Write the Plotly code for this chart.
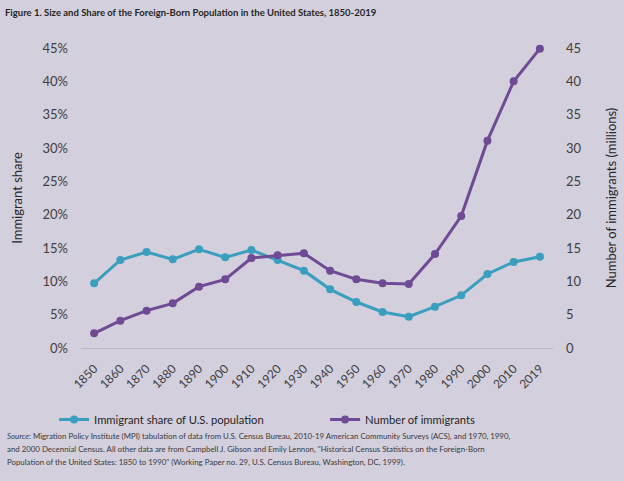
import plotly.graph_objects as go

years = ["1850", "1860", "1870", "1880", "1890", "1900", "1910", "1920", "1930",
         "1940", "1950", "1960", "1970", "1980", "1990", "2000", "2010", "2019"]
share_pct = [9.7, 13.2, 14.4, 13.3, 14.8, 13.6, 14.7, 13.2, 11.6,
             8.8, 6.9, 5.4, 4.7, 6.2, 7.9, 11.1, 12.9, 13.7]
number_mil = [2.2, 4.1, 5.6, 6.7, 9.2, 10.3, 13.5, 13.9, 14.2,
              11.6, 10.3, 9.7, 9.6, 14.1, 19.8, 31.1, 40.0, 44.9]

source_lines = [
    "<i>Source</i>: Migration Policy Institute (MPI) tabulation of data from U.S. Census Bureau, 2010-19 American Community Surveys (ACS), and 1970, 1990,",
    "and 2000 Decennial Census. All other data are from Campbell J. Gibson and Emily Lennon, \"Historical Census Statistics on the Foreign-Born",
    "Population of the United States: 1850 to 1990\" (Working Paper no. 29, U.S. Census Bureau, Washington, DC, 1999).",
]

BG = "#D3CFDC"
TEAL = "#3A9FBE"
PURPLE = "#6E4B94"
TXT = "#404040"
FONT = "Lato"

fig = go.Figure()
fig.add_trace(go.Scatter(
    x=years, y=share_pct, name="Immigrant share of U.S. population",
    mode="lines+markers", line=dict(color=TEAL, width=3),
    marker=dict(size=8, color=TEAL), cliponaxis=False, yaxis="y"))
fig.add_trace(go.Scatter(
    x=years, y=number_mil, name="Number of immigrants",
    mode="lines+markers", line=dict(color=PURPLE, width=3),
    marker=dict(size=8, color=PURPLE), cliponaxis=False, yaxis="y2"))

fig.update_layout(
    width=624, height=481,
    paper_bgcolor=BG, plot_bgcolor=BG,
    margin=dict(l=81, r=71, t=48, b=133, autoexpand=False),
    font=dict(family=FONT, color=TXT, size=13),
    title=dict(text="<b>Figure 1. Size and Share of the Foreign-Born Population in the United States, 1850-2019</b>",
               x=0.008, xref="container", xanchor="left", y=0.973, yref="container", yanchor="middle",
               font=dict(size=9.5, color="#262626")),
    showlegend=True,
    legend=dict(orientation="h", x=-0.057, xanchor="left", y=-0.19, yanchor="top",
                font=dict(size=11.2, color="#262626"), bgcolor="rgba(0,0,0,0)",
                entrywidth=226, entrywidthmode="pixels", itemwidth=30),
    xaxis=dict(type="category", range=[-0.5, 17.5], showgrid=False, showline=True,
               linecolor="#BDBAC4", linewidth=1,
               ticks="", tickangle=-45, tickfont=dict(size=12, color=TXT), zeroline=False,
               automargin=False, ticklabelstandoff=8),
    yaxis=dict(range=[0, 45], dtick=5, ticksuffix="%", showgrid=False, zeroline=False,
               ticklabelstandoff=12, automargin=False,
               title=dict(text="Immigrant share", font=dict(size=13, color="#262626"), standoff=16),
               tickfont=dict(size=13, color=TXT)),
    yaxis2=dict(range=[0, 45], dtick=5, overlaying="y", side="right", showgrid=False, zeroline=False,
                ticklabelstandoff=12, automargin=False,
                title=dict(text="Number of immigrants (millions)", font=dict(size=13, color="#262626"), standoff=26),
                tickfont=dict(size=13, color=TXT)),
)

for line, ypos in zip(source_lines, [-0.2933, -0.3367, -0.38]):
    fig.add_annotation(
        xref="paper", yref="paper", x=-0.161, y=ypos, xanchor="left", yanchor="middle", align="left",
        showarrow=False, font=dict(size=7.85, color="#3A3A3A", family=FONT), text=line)

fig.write_html("out.html", config={"displayModeBar": False},
               post_script="document.body.style.margin='0';document.body.style.padding='0';")
